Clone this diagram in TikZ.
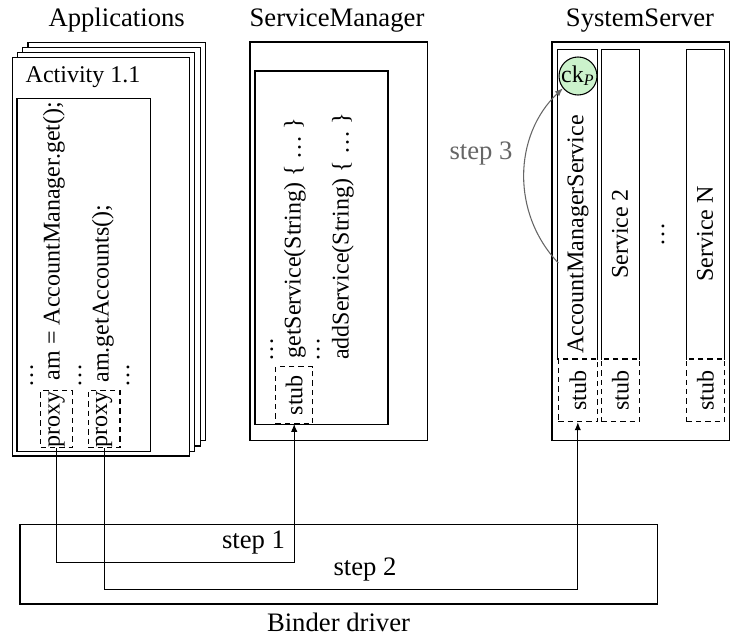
\documentclass[tikz,border=0pt]{standalone}
\usepackage{fontspec}
\setmainfont{Liberation Serif}
\usetikzlibrary{fit,arrows.meta}
\definecolor{ckgreen}{RGB}{204,242,204}
\begin{document}
\begin{tikzpicture}[x=0.375pt,y=-0.375pt,
  box/.style={draw, inner sep=0pt, fill=white},
  dbox/.style={draw, dash pattern=on 2pt off 1.5pt, inner sep=0pt},
  colbox/.style={inner sep=0pt},
  vtext/.style={rotate=90, font=\small, inner sep=0pt},
  ttl/.style={anchor=base, inner sep=0pt},
  arr/.style={-{Latex[length=3pt,width=2.4pt]}},
]
\useasboundingbox (0,0) rectangle (737,639);

% titles
\node[ttl] (tapps) at (116.7,26) {Applications};
\node[ttl] (tsm) at (337,26) {ServiceManager};
\node[ttl] (tss) at (640,26) {SystemServer};

% Applications stack
\node[box, fit={(28,42.3) (205.7,440.7)}] (app4) {};
\node[box, fit={(22.7,47.7) (200.3,446)}] (app3) {};
\node[box, fit={(17.3,52.7) (194.7,451.3)}] (app2) {};
\node[box, fit={(12.3,57.7) (189.3,456)}] (app1) {};
\node[ttl, font=\small] (act) at (83,82.7) {Activity 1.1};
\node[box, fit={(17,98.3) (150.3,451.3)}] (appin) {};

\node[vtext] (ad1) at (31.7,375.5) {\dots};
\node[vtext] (amget) at (54,241) {am = AccountManager.get();};
\node[vtext] (ad2) at (80,375.5) {\dots};
\node[vtext] (amacc) at (103,293.5) {am.getAccounts();};
\node[vtext] (ad3) at (128,375.5) {\dots};
\node[dbox, fit={(40.7,390.7) (72.3,447.3)}] (proxy1) {};
\node[vtext] (proxy1t) at (proxy1.center) {proxy};
\node[dbox, fit={(88.3,390.7) (120,447.3)}] (proxy2) {};
\node[vtext] (proxy2t) at (proxy2.center) {proxy};

% ServiceManager
\node[box, fit={(250,42) (427.7,440.3)}] (sm) {};
\node[box, fit={(255,71) (388,424.3)}] (smin) {};
\node[vtext] (sd1) at (271.7,349.5) {\dots};
\node[vtext] (getsvc) at (295,238) {getService(String)~\{~\dots~\}};
\node[vtext] (sd2) at (318.3,349.5) {\dots};
\node[vtext] (addsvc) at (343,236.5) {addService(String)~\{~\dots~\}};
\node[dbox, fit={(275.7,366.7) (312.7,423.3)}] (smstub) {};
\node[vtext] (smstubt) at (smstub.center) {stub};

% SystemServer
\node[box, fit={(552,42) (729.3,440.7)}] (ss) {};
\node[colbox, fit={(558.3,50) (597.3,359)}] (col1) {};
\node[colbox, fit={(601.7,50) (639.3,359)}] (col2) {};
\node[colbox, fit={(686.7,50) (724.3,359)}] (colN) {};
\draw (col1.south west) |- (col1.north east) -- (col1.south east);
\draw (col2.south west) |- (col2.north east) -- (col2.south east);
\draw (colN.south west) |- (colN.north east) -- (colN.south east);
\node[dbox, fit={(558.3,359) (597.3,421.7)}] (stub1) {};
\node[dbox, fit={(601.7,359) (639.3,421.7)}] (stub2) {};
\node[dbox, fit={(686.7,359) (724.3,421.7)}] (stubN) {};
\node[vtext] (stub1t) at (stub1.center) {stub};
\node[vtext] (stub2t) at (stub2.center) {stub};
\node[vtext] (stubNt) at (stubN.center) {stub};
\node[vtext] (ams) at (578,234.5) {AccountManagerService};
\node[vtext] (svc2) at (620,234) {Service 2};
\node[vtext] (ssd) at (663,234) {\dots};
\node[vtext] (svcN) at (705,234) {Service N};
\node[circle, draw, fill=ckgreen, minimum size=14.25pt, inner sep=0pt, font=\small] (ck) at (578,76)
  {\makebox[0pt]{ck\textsubscript{\textit{P}}}};

% step 3
\coordinate (s3) at (558.3,263);
\draw[arr, draw=black!60] (s3) to[bend left=45] (ck);
\node[ttl, text=black!60] (step3) at (481,159.3) {step 3};

% Binder driver
\node[draw, inner sep=0pt, fit={(20,524.3) (657.6,604)}] (binder) {};
\node[ttl] (tbinder) at (338.5,631.7) {Binder driver};

% step 1 and step 2
\coordinate (y1) at (0,562.7);
\coordinate (y2) at (0,589.7);
\draw[arr] (proxy1.south) -- (proxy1.south |- y1) -| (smstub.south);
\draw[arr] (proxy2.south) -- (proxy2.south |- y2) -| (stub1.south);
\node[ttl] (step1) at (253.5,548.3) {step 1};
\node[ttl] (step2) at (365,575) {step 2};
\end{tikzpicture}
\end{document}
